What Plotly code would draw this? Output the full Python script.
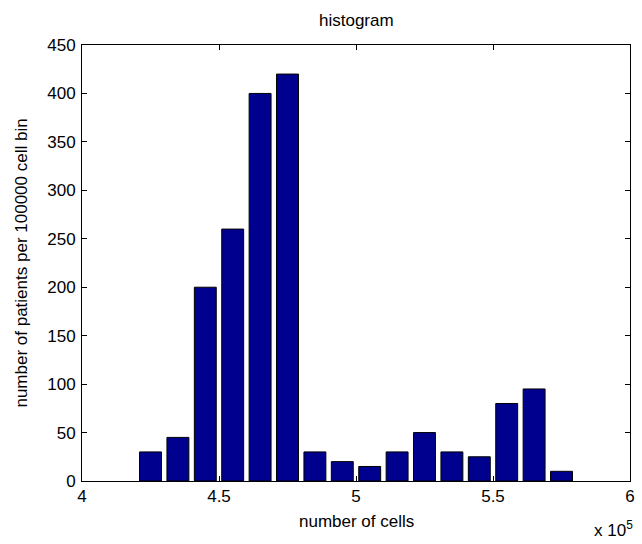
import plotly.graph_objects as go

# bin centers in units of 10^5 cells
bin_centers = [4.25, 4.35, 4.45, 4.55, 4.65, 4.75, 4.85, 4.95,
               5.05, 5.15, 5.25, 5.35, 5.45, 5.55, 5.65, 5.75]
counts = [30, 45, 200, 260, 400, 420, 30, 20, 15, 30, 50, 30, 25, 80, 95, 10]
x_ticks = [4, 4.5, 5, 5.5, 6]
x_tick_labels = ["4", "4.5", "5", "5.5", "6"]
y_ticks = list(range(0, 451, 50))

FONT = "Liberation Sans, Arial, Helvetica, sans-serif"
FS = 17

fig = go.Figure()
fig.add_trace(go.Bar(
    x=bin_centers, y=counts, width=0.08,
    marker=dict(color="rgb(0,0,143)", line=dict(color="black", width=1)),
    showlegend=False,
))

W, H = 642, 544
L, R, T, B = 82, 7, 45, 63
ph = H - T - B
pw = W - L - R

fig.update_layout(
    width=W, height=H,
    margin=dict(l=L, r=R, t=T, b=B),
    plot_bgcolor="white", paper_bgcolor="white",
    font=dict(family=FONT, size=FS, color="black"),
    xaxis=dict(range=[4, 6], tickvals=x_ticks, ticktext=x_tick_labels,
               ticks="inside", ticklen=5, tickcolor="black",
               showline=True, linecolor="black", linewidth=1, mirror="ticks",
               showgrid=False, zeroline=False, ticklabelstandoff=0,
               ticklabeloverflow="allow"),
    yaxis=dict(range=[0, 450], tickvals=y_ticks,
               ticks="inside", ticklen=5, tickcolor="black",
               showline=True, linecolor="black", linewidth=1, mirror="ticks",
               showgrid=False, zeroline=False, ticklabelstandoff=2,
               ticklabeloverflow="allow"),
    annotations=[
        dict(text="histogram", xref="paper", yref="paper", x=0.5,
             y=1 + (T - 21) / ph, showarrow=False, xanchor="center", yanchor="middle",
             font=dict(size=FS)),
        dict(text="number of cells", xref="paper", yref="paper", x=0.5,
             y=-(521 - (T + ph)) / ph, showarrow=False, xanchor="center", yanchor="middle",
             font=dict(size=FS)),
        dict(text="number of patients per 100000 cell bin", xref="paper", yref="paper",
             x=-(L - 20) / pw, y=0.5, textangle=-90, showarrow=False,
             xanchor="center", yanchor="middle", font=dict(size=FS)),
        dict(text="x 10<sup>5</sup>", xref="paper", yref="paper",
             x=1 + 5 / pw, y=-(529 - (T + ph)) / ph, showarrow=False,
             xanchor="right", yanchor="middle", font=dict(size=FS)),
    ],
)

fig.write_html("out.html", config={"displayModeBar": False},
               post_script="document.body.style.margin='0px';document.body.style.overflow='hidden';")
